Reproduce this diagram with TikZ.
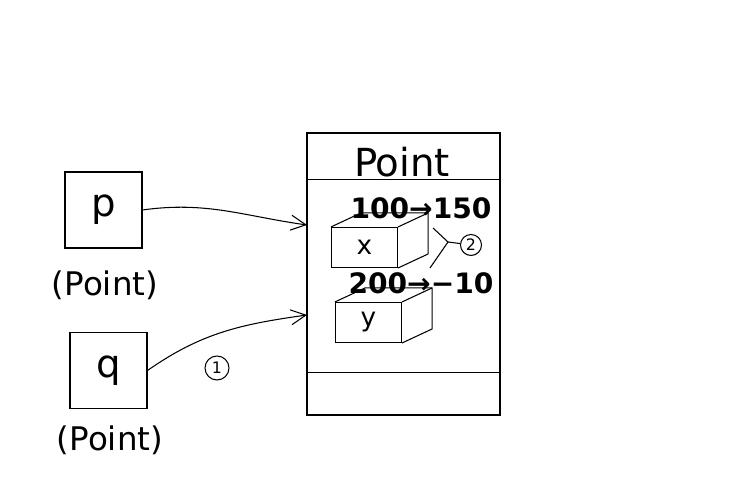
\documentclass[tikz,border=0pt]{standalone}
\usepackage{fontspec}
\setmainfont{DejaVu Sans}
\usetikzlibrary{arrows.meta,positioning,calc}

\begin{document}
\begin{tikzpicture}[
    line width=0.6pt,
    ref/.style={draw, minimum width=1.54cm, minimum height=1.52cm, font=\fontsize{22}{24}\selectfont},
    typ/.style={font=\fontsize{18.5}{21}\selectfont},
    field/.style={draw, minimum width=1.32cm, minimum height=0.8cm, font=\fontsize{15}{18}\selectfont},
    val/.style={font=\fontsize{16}{19}\selectfont\bfseries},
    num/.style={draw, circle, inner sep=0pt, font=\small},
    arrow/.style={-{Straight Barb[length=3mm,width=3mm]}}
]
    \useasboundingbox (0,0) rectangle (15,10);

    % references
    \node[ref] (p) at (2.07,5.8) {p};
    \node[typ] (ptype) at (2.1,4.3) {(Point)};
    \node[ref] (q) at (2.17,2.59) {q};
    \node[typ] (qtype) at (2.2,1.2) {(Point)};

    % the object
    \node[draw, minimum width=3.86cm, minimum height=5.64cm] (obj) at (8.07,4.52) {};
    \draw ($(obj.north west)+(0,-0.94)$) -- ($(obj.north east)+(0,-0.94)$);
    \draw ($(obj.south west)+(0,0.86)$) -- ($(obj.south east)+(0,0.86)$);
    \node[font=\fontsize{22}{24}\selectfont] (title) at (8.04,6.76) {Point};

    % fields
    \node[field] (cubex) at (7.29,5.05) {x};
    \node[field] (cubey) at (7.37,3.55) {y};
    \foreach \c in {cubex,cubey} {
        \draw (\c.north west) -- ++(0.6,0.28) coordinate (tl)
              -- ($(\c.north east)+(0.6,0.28)$) coordinate (tr)
              -- ($(\c.south east)+(0.6,0.28)$) -- (\c.south east);
        \draw (\c.north east) -- (tr);
    }
    \node[val] (xval) at (8.42,5.84) {100→150};
    \node[val] (yval) at (8.42,4.34) {200→−10};

    % markers
    \node[num, minimum size=0.48cm] (one) at (4.34,2.64) {1};
    \node[num, minimum size=0.42cm] (two) at (9.42,5.1) {2};
    \coordinate (b1) at (8.66,5.44);
    \coordinate (b2) at (8.6,4.64);
    \coordinate (apex) at (8.96,5.16);
    \draw (b1) -- (apex) -- (b2);
    \draw (apex) -- (two);

    % pointers
    \coordinate (in1) at (6.14,5.5);
    \coordinate (in2) at (6.14,3.7);
    \draw[arrow] (p.east) to[out=8, in=172] (in1);
    \draw[arrow] (q.east) to[out=35, in=188] (in2);
\end{tikzpicture}
\end{document}
